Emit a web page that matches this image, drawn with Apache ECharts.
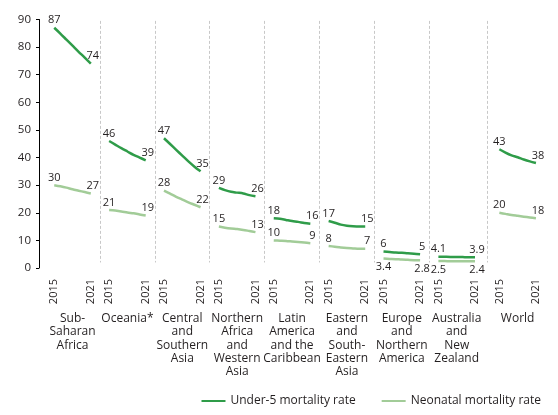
<!DOCTYPE html>
<html><head><meta charset="utf-8">
<script src="https://cdn.jsdelivr.net/npm/echarts@6/dist/echarts.min.js"></script>
<style>html,body{margin:0;padding:0;background:#fff}#c{width:558px;height:415px}</style>
</head><body><div id="c"></div>
<script>
// ---- data ----
const regions = [
  'Sub-\nSaharan\nAfrica',
  'Oceania*',
  'Central\nand\nSouthern\nAsia',
  'Northern\nAfrica\nand\nWestern\nAsia',
  'Latin\nAmerica\nand the\nCaribbean',
  'Eastern\nand\nSouth-\nEastern\nAsia',
  'Europe\nand\nNorthern\nAmerica',
  'Australia\nand\nNew\nZealand',
  'World'
];
const years = ['2015','2016','2017','2018','2019','2020','2021'];
const yTicks = [0,10,20,30,40,50,60,70,80,90];

const under5Rates = [
  [87, 84.9, 82.7, 80.5, 78.3, 76.2, 74],
  [46, 44.7, 43.4, 42.2, 41.0, 40.0, 39],
  [47, 44.9, 42.8, 40.7, 38.6, 36.7, 35],
  [29, 28.2, 27.6, 27.3, 27.0, 26.4, 26],
  [18, 17.8, 17.4, 17.0, 16.7, 16.3, 16],
  [17, 16.4, 15.7, 15.3, 15.1, 15.0, 15],
  [6, 5.8, 5.6, 5.5, 5.3, 5.2, 5],
  [4.1, 4.05, 4.0, 4.0, 3.95, 3.9, 3.9],
  [43, 41.8, 40.8, 40.1, 39.3, 38.6, 38]
];
const neonatalRates = [
  [30, 29.6, 29.1, 28.5, 28.0, 27.5, 27],
  [21, 20.8, 20.5, 20.1, 19.8, 19.4, 19],
  [28, 26.9, 25.8, 24.8, 23.8, 22.9, 22],
  [15, 14.6, 14.3, 14.1, 13.8, 13.4, 13],
  [10, 9.9, 9.8, 9.6, 9.4, 9.2, 9],
  [8, 7.7, 7.4, 7.2, 7.1, 7.0, 7],
  [3.4, 3.3, 3.2, 3.05, 2.95, 2.85, 2.8],
  [2.5, 2.5, 2.45, 2.45, 2.4, 2.4, 2.4],
  [20, 19.6, 19.2, 18.9, 18.6, 18.3, 18]
];
const seriesNames = ['Under-5 mortality rate', 'Neonatal mortality rate'];

// ---- build category slots ----
const TXT = '#231f20';
const FONT = 'Open Sans';
const neonatalBelow = new Set([6, 7]);
const cats = [], u5 = [], nn = [], sepAt = [], yearIdx = new Set(), regionIdx = {};
regions.forEach((r, g) => {
  const lead = g === regions.length - 1 ? 3 : 2;
  if (g > 0) sepAt.push(cats.length + lead / 2);
  for (let k = 0; k < lead; k++) { cats.push('gap' + g + '_' + k); u5.push('-'); nn.push('-'); }
  years.forEach((y, i) => {
    const idx = cats.length;
    cats.push(g + '|' + y);
    const end = i === 0 || i === years.length - 1;
    if (end) yearIdx.add(idx);
    if (i === 3) regionIdx[idx] = r;
    const mk = (v, below) => end ? {
      value: v,
      label: { show: true, position: below ? 'bottom' : 'top', distance: below ? 3 : 2,
               offset: [i === 0 ? 0 : 2, 0] }
    } : v;
    u5.push(mk(under5Rates[g][i], false));
    nn.push(mk(neonatalRates[g][i], neonatalBelow.has(g)));
  });
});

const chart = echarts.init(document.getElementById('c'), null, { renderer: 'canvas' });
const lbl = { color: TXT, fontFamily: FONT, fontSize: 11 };
const lineCommon = {
  type: 'line', xAxisIndex: 0, smooth: 0.3,
  symbol: 'circle', symbolSize: 0.01, showSymbol: true, showAllSymbol: true,
  connectNulls: false, emphasis: { disabled: true }
};
chart.setOption({
  animation: false,
  textStyle: { fontFamily: FONT },
  grid: { left: 39, right: 19, top: 19.5, bottom: 147, outerBoundsMode: 'none' },
  legend: {
    data: seriesNames, right: 12, top: 390, itemGap: 26, itemWidth: 24, itemHeight: 2,
    icon: 'rect', textStyle: { color: TXT, fontFamily: FONT, fontSize: 12 }
  },
  xAxis: [
    {
      type: 'category', data: cats, boundaryGap: true,
      axisLine: { show: false }, axisTick: { show: false }, splitLine: { show: false },
      axisLabel: Object.assign({}, lbl, {
        rotate: 90, margin: 11,
        interval: (i) => yearIdx.has(i),
        formatter: (v) => v.split('|')[1]
      })
    },
    {
      type: 'category', data: cats, boundaryGap: true, position: 'bottom',
      axisLine: { show: false }, axisTick: { show: false }, splitLine: { show: false },
      axisLabel: {
        color: TXT, fontFamily: FONT, fontSize: 12, lineHeight: 13.3, margin: 44,
        interval: (i) => regionIdx[i] !== undefined,
        formatter: (v, i) => regionIdx[i] || ''
      }
    },
    { type: 'value', min: 0, max: cats.length, show: false }
  ],
  yAxis: {
    type: 'value', min: 0, max: 90, interval: 10,
    axisLine: { show: true, lineStyle: { color: '#000', width: 1 } },
    axisTick: { show: true, length: 3, lineStyle: { color: '#000' } },
    splitLine: { show: false },
    axisLabel: Object.assign({}, lbl, { margin: 8, fontSize: 11.5,
      formatter: (v) => yTicks.includes(v) ? String(v) : '' })
  },
  series: [
    Object.assign({}, lineCommon, {
      name: seriesNames[0], data: u5,
      lineStyle: { color: '#2f9c49', width: 2.5 }, itemStyle: { color: '#2f9c49' },
      label: Object.assign({ show: false }, lbl), z: 3
    }),
    Object.assign({}, lineCommon, {
      name: seriesNames[1], data: nn,
      lineStyle: { color: '#a2cc98', width: 2.5 }, itemStyle: { color: '#a2cc98' },
      label: Object.assign({ show: false }, lbl), z: 2
    }),
    {
      name: 'sep', type: 'line', xAxisIndex: 2, data: [], silent: true,
      markLine: {
        symbol: 'none', silent: true, animation: false, label: { show: false },
        lineStyle: { type: [3, 2], color: '#c8c8c8', width: 1 },
        data: sepAt.map(x => [{ coord: [x, 89.5] }, { coord: [x, 2] }])
      }
    }
  ]
});
</script>
</body></html>
